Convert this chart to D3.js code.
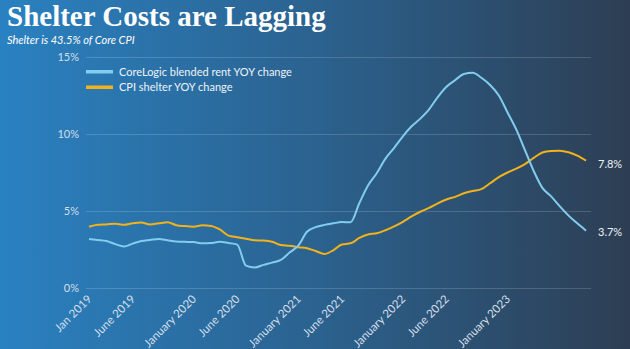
<!DOCTYPE html>
<html><head><meta charset="utf-8">
<script src="https://cdn.jsdelivr.net/npm/d3@7"></script>
<style>html,body{margin:0;padding:0;background:#2b5f8a;}svg{display:block;}</style>
</head><body>
<svg id="chart" width="630" height="349"></svg>
<script>
// Monthly, Jan 2019 .. Oct 2023 index positions
const corelogicRent = [3.18,3.12,3.05,2.85,2.7,2.88,3.05,3.12,3.18,3.1,3.02,3.0,2.98,2.9,2.92,3.0,2.92,2.82,1.45,1.33,1.5,1.65,1.82,2.3,2.75,3.65,3.95,4.1,4.2,4.28,4.27,5.5,6.65,7.45,8.4,9.1,9.85,10.5,11.0,11.6,12.4,13.07,13.5,13.9,13.97,13.65,13.18,12.5,11.4,10.3,8.95,7.6,6.5,5.95,5.3,4.7,4.2,3.72];
const cpiShelter = [3.98,4.1,4.13,4.18,4.1,4.2,4.25,4.12,4.2,4.27,4.08,4.02,3.98,4.07,4.03,3.8,3.4,3.3,3.2,3.1,3.08,3.0,2.79,2.74,2.65,2.58,2.4,2.21,2.45,2.83,2.9,3.25,3.48,3.55,3.75,4.0,4.3,4.65,4.95,5.2,5.5,5.75,5.92,6.15,6.3,6.42,6.8,7.2,7.5,7.75,8.05,8.45,8.8,8.9,8.92,8.82,8.6,8.27];
const xTickIndex = [0,5,12,17,24,29,36,41,48];
const xTickLabels = ["Jan 2019","June 2019","January 2020","June 2020","January 2021","June 2021","January 2022","June 2022","January 2023"];
const yTicks = [0,5,10,15];
const seriesNames = ["CoreLogic blended rent YOY change","CPI shelter YOY change"];
const endLabels = ["3.7%","7.8%"];

const svg = d3.select("#chart");
const W = 630, H = 349;
const defs = svg.append("defs");
const grad = defs.append("linearGradient").attr("id","bg").attr("x1","0").attr("x2","1").attr("y1","0").attr("y2","0");
grad.append("stop").attr("offset","0%").attr("stop-color","#2a81c1");
grad.append("stop").attr("offset","50%").attr("stop-color","#2b628f");
grad.append("stop").attr("offset","100%").attr("stop-color","#2d3e53");
svg.append("rect").attr("width",W).attr("height",H).attr("fill","url(#bg)");

const x = d3.scaleLinear().domain([0, corelogicRent.length-1]).range([89, 586]);
const y = d3.scaleLinear().domain([0,15]).range([288, 57]);

// gridlines
svg.append("g").selectAll("line").data(yTicks).join("line")
  .attr("x1",86).attr("x2",591).attr("y1",d=>y(d)+0.5).attr("y2",d=>y(d)+0.5)
  .attr("stroke","rgba(255,255,255,0.16)").attr("stroke-width",1);

const font = "Lato, 'Open Sans', sans-serif";
// y axis labels
const yAxis = d3.axisLeft(y).tickValues(yTicks).tickFormat(d=>d+"%").tickSize(0).tickPadding(0);
const gy = svg.append("g").attr("transform","translate(79,0)").call(yAxis);
gy.select(".domain").remove();
gy.selectAll("text").attr("fill","#d4dfea").style("font-family",font).style("font-size","11px");

// x axis labels
const xAxis = d3.axisBottom(x).tickValues(xTickIndex).tickFormat((d,i)=>xTickLabels[i]).tickSize(0).tickPadding(0);
const gx = svg.append("g").attr("transform","translate(0,297)").call(xAxis);
gx.select(".domain").remove();
gx.selectAll("text").attr("fill","#d4dfea").style("font-family",font).style("font-size","11.5px")
  .attr("text-anchor","end").attr("dy","0.35em").attr("y",0).attr("x",0).attr("transform","rotate(-45)");

// lines
const line = d3.line().x((d,i)=>x(i)).y(d=>y(d)).curve(d3.curveMonotoneX);
svg.append("path").datum(cpiShelter).attr("d",line).attr("fill","none").attr("stroke","#f2b21b").attr("stroke-width",2);
svg.append("path").datum(corelogicRent).attr("d",line).attr("fill","none").attr("stroke","#82cdef").attr("stroke-width",2);

// end labels
svg.append("text").attr("x",598).attr("y",232).attr("dy","0.35em").text(endLabels[0])
  .attr("fill","#eef3f8").style("font-family",font).style("font-size","11px");
svg.append("text").attr("x",598).attr("y",164).attr("dy","0.35em").text(endLabels[1])
  .attr("fill","#eef3f8").style("font-family",font).style("font-size","11px");

// legend
const legColors = ["#82cdef","#f2b21b"];
const leg = svg.append("g");
seriesNames.forEach((n,i)=>{
  leg.append("rect").attr("x",86).attr("y",70+i*15.5).attr("width",27).attr("height",3.5).attr("fill",legColors[i]);
  leg.append("text").attr("x",119).attr("y",72+i*15.5).attr("dy","0.35em").text(n)
    .attr("fill","#eef3f8").style("font-family",font).style("font-size","11px");
});

// title
svg.append("text").attr("x",7).attr("y",26).text("Shelter Costs are Lagging")
  .attr("fill","#ffffff").style("font-family","'Liberation Serif', 'DejaVu Serif', serif").style("font-weight","bold").style("font-size","29px");
svg.append("text").attr("x",7).attr("y",43.5).text("Shelter is 43.5% of Core CPI")
  .attr("fill","#ffffff").style("font-family",font).style("font-style","italic").style("font-size","11px");
</script>
</body></html>
